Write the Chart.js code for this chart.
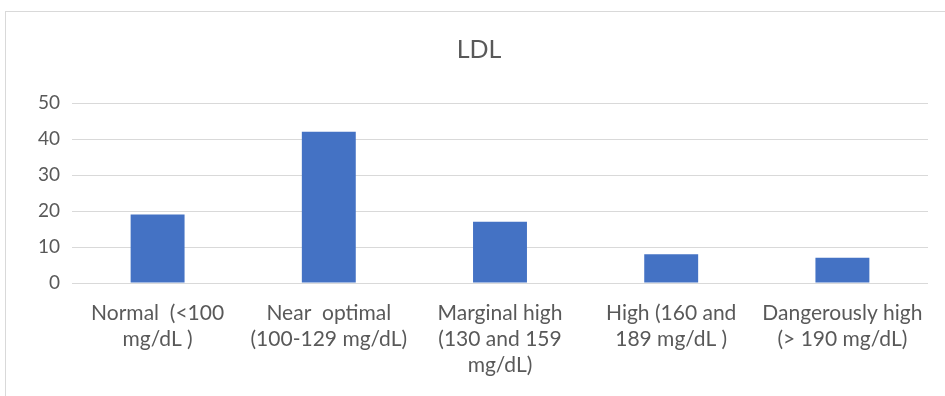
<!DOCTYPE html>
<html><head><meta charset="utf-8">
<script src="https://cdn.jsdelivr.net/npm/chart.js@4/dist/chart.umd.min.js"></script>
<style>html,body{margin:0;padding:0;background:#fff;}#wrap{width:945px;height:396px;position:relative;}</style>
</head><body><div id="wrap"><canvas id="c" width="945" height="396"></canvas></div>
<script>
const categories = [
  ["Normal  (<100", "mg/dL )"],
  ["Near  optimal", "(100-129 mg/dL)"],
  ["Marginal high", "(130 and 159", "mg/dL)"],
  ["High (160 and", "189 mg/dL )"],
  ["Dangerously high", "(> 190 mg/dL)"]
];
const values = [19, 42, 17, 8, 7];
const yTicks = [0, 10, 20, 30, 40, 50];

const frame = {
  id: 'frame',
  beforeDraw(chart) {
    const ctx = chart.ctx;
    ctx.save();
    ctx.strokeStyle = '#d9d9d9';
    ctx.lineWidth = 1;
    ctx.strokeRect(5.5, 11.5, 960, 400);
    ctx.restore();
  }
};

new Chart(document.getElementById('c'), {
  type: 'bar',
  data: {
    labels: categories,
    datasets: [{ data: values, backgroundColor: '#4472C4', barPercentage: 0.315, categoryPercentage: 1.0 }]
  },
  options: {
    responsive: false,
    animation: false,
    layout: { padding: { left: 30, right: 17, top: 0, bottom: 0 } },
    plugins: {
      legend: { display: false },
      tooltip: { enabled: false },
      title: {
        display: true, text: 'LDL', color: '#595959',
        font: { family: 'Lato', size: 25, weight: 'normal', lineHeight: 1.2 },
        padding: { top: 35, bottom: 38 }
      }
    },
    scales: {
      x: {
        grid: { display: false, drawTicks: false },
        border: { display: false },
        ticks: { color: '#595959', font: { family: 'Lato', size: 21, lineHeight: 1.24 }, padding: 17, autoSkip: false, maxRotation: 0, minRotation: 0 },
        afterFit(s) { s.height = 113; }
      },
      y: {
        min: 0, max: 50,
        afterBuildTicks(s) { s.ticks = yTicks.map(v => ({ value: v })); },
        grid: { color: '#d9d9d9', lineWidth: 1, drawTicks: false },
        border: { display: false },
        ticks: { color: '#595959', font: { family: 'Lato', size: 19 }, padding: 12 },
        afterFit(s) { s.width = 42; }
      }
    }
  },
  plugins: [frame]
});
</script></body></html>
